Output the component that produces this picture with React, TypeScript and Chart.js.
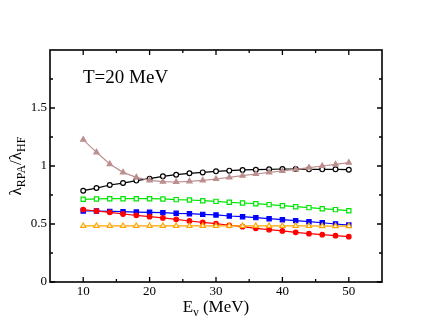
import React, { useEffect, useRef } from 'react';
import { Chart, registerables } from 'chart.js';

Chart.register(...registerables);

const energies = [10, 12, 14, 16, 18, 20, 22, 24, 26, 28, 30, 32, 34, 36, 38, 40, 42, 44, 46, 48, 50];
const blackOpenCircles = [0.787, 0.81, 0.836, 0.853, 0.874, 0.891, 0.911, 0.925, 0.937, 0.945, 0.954, 0.96, 0.966, 0.968, 0.971, 0.974, 0.974, 0.971, 0.971, 0.971, 0.968];
const brownTriangles = [1.227, 1.118, 1.017, 0.945, 0.902, 0.876, 0.865, 0.862, 0.868, 0.876, 0.888, 0.902, 0.917, 0.931, 0.945, 0.957, 0.971, 0.986, 1.0, 1.014, 1.029];
const greenOpenSquares = [0.713, 0.716, 0.718, 0.718, 0.718, 0.718, 0.716, 0.71, 0.707, 0.701, 0.695, 0.687, 0.681, 0.675, 0.667, 0.658, 0.649, 0.641, 0.632, 0.624, 0.615];
const blueSquares = [0.612, 0.612, 0.609, 0.606, 0.603, 0.601, 0.598, 0.592, 0.589, 0.583, 0.578, 0.569, 0.563, 0.555, 0.546, 0.537, 0.529, 0.52, 0.511, 0.5, 0.491];
const redCircles = [0.624, 0.612, 0.601, 0.586, 0.575, 0.563, 0.552, 0.54, 0.526, 0.514, 0.503, 0.489, 0.477, 0.463, 0.451, 0.44, 0.428, 0.417, 0.408, 0.399, 0.391];
const orangeOpenTriangles = [0.483, 0.483, 0.483, 0.483, 0.483, 0.483, 0.483, 0.483, 0.483, 0.483, 0.483, 0.483, 0.483, 0.483, 0.483, 0.483, 0.483, 0.483, 0.482, 0.482, 0.482];

const xMajorTicks = [10, 20, 30, 40, 50];
const xMinorTicks = [15, 25, 35, 45];
const yMajorTicks = [0, 0.5, 1, 1.5];
const yMinorTicks = [0.25, 0.75, 1.25, 1.75];
const annotationText = 'T=20 MeV';

const SERIF = '"Liberation Serif", "DejaVu Serif", serif';

const framePlugin = {
  id: 'framePlugin',
  afterDatasetsDraw(chart: any) {
    const { ctx, chartArea } = chart;
    const xs = chart.scales.x;
    const ys = chart.scales.y;
    const { left, right, top, bottom } = chartArea;
    ctx.save();
    ctx.strokeStyle = '#000';
    ctx.lineWidth = 1.6;
    ctx.strokeRect(left, top, right - left, bottom - top);
    ctx.lineWidth = 1.3;
    const major = 5;
    const minor = 3;
    ctx.beginPath();
    const xt = (v: number, len: number) => {
      const px = xs.getPixelForValue(v);
      ctx.moveTo(px, bottom);
      ctx.lineTo(px, bottom - len);
      ctx.moveTo(px, top);
      ctx.lineTo(px, top + len);
    };
    const yt = (v: number, len: number) => {
      const py = ys.getPixelForValue(v);
      ctx.moveTo(left, py);
      ctx.lineTo(left + len, py);
      ctx.moveTo(right, py);
      ctx.lineTo(right - len, py);
    };
    xMajorTicks.forEach((v) => xt(v, major));
    xMinorTicks.forEach((v) => xt(v, minor));
    yMajorTicks.forEach((v) => yt(v, major));
    yMinorTicks.forEach((v) => yt(v, minor));
    ctx.stroke();
    ctx.restore();
  },
  afterDraw(chart: any) {
    const { ctx, chartArea } = chart;
    const { left, right, top, bottom } = chartArea;
    ctx.save();
    ctx.fillStyle = '#000';
    ctx.textBaseline = 'alphabetic';
    ctx.textAlign = 'left';

    // annotation
    ctx.font = `19px ${SERIF}`;
    ctx.fillText(annotationText, left + 33, top + 32.5);

    // x title: E_ν (MeV)
    const mainX = `17px ${SERIF}`;
    const subX = `12px ${SERIF}`;
    ctx.font = mainX;
    const wE = ctx.measureText('E').width;
    const wRest = ctx.measureText(' (MeV)').width;
    ctx.font = subX;
    const wNu = ctx.measureText('ν').width;
    const totalX = wE + wNu + wRest;
    let cx = (left + right) / 2 - totalX / 2;
    const by = bottom + 29.5;
    ctx.font = mainX;
    ctx.fillText('E', cx, by);
    cx += wE;
    ctx.font = subX;
    ctx.fillText('ν', cx, by + 4);
    cx += wNu;
    ctx.font = mainX;
    ctx.fillText(' (MeV)', cx, by);

    // y title: λ_RPA / λ_HF
    const mainY = `17px ${SERIF}`;
    const subY = `12px ${SERIF}`;
    const parts: [string, boolean][] = [
      ['λ', false],
      ['RPA', true],
      ['/', false],
      ['λ', false],
      ['HF', true],
    ];
    const widths = parts.map(([t, s]) => {
      ctx.font = s ? subY : mainY;
      return ctx.measureText(t).width;
    });
    const totalY = widths.reduce((a, b) => a + b, 0);
    ctx.translate(20.5, (top + bottom) / 2);
    ctx.rotate(-Math.PI / 2);
    let lx = -totalY / 2;
    parts.forEach(([t, s], i) => {
      ctx.font = s ? subY : mainY;
      ctx.fillText(t, lx, s ? 4 : 0);
      lx += widths[i];
    });
    ctx.restore();
  },
};

function makeSet(label: string, data: number[], color: string, style: string, filled: boolean, radius: number) {
  return {
    label,
    data: energies.map((x, i) => ({ x, y: data[i] })),
    borderColor: color,
    backgroundColor: color,
    borderWidth: 1.2,
    pointStyle: style,
    pointRadius: radius,
    pointBorderColor: color,
    pointBackgroundColor: filled ? color : '#fff',
    pointBorderWidth: 1.2,
    tension: 0,
    fill: false,
  };
}

export default function App() {
  const ref = useRef<HTMLCanvasElement | null>(null);
  useEffect(() => {
    if (!ref.current) return;
    const chart = new Chart(ref.current, {
      type: 'line',
      data: {
        datasets: [
          makeSet('orange', orangeOpenTriangles, 'rgb(255,165,0)', 'triangle', false, 3),
          makeSet('red', redCircles, 'rgb(255,0,0)', 'circle', true, 2.3),
          makeSet('blue', blueSquares, 'rgb(0,0,255)', 'rect', true, 3),
          makeSet('green', greenOpenSquares, 'rgb(0,230,0)', 'rect', false, 3),
          makeSet('brown', brownTriangles, 'rgb(188,143,143)', 'triangle', true, 3),
          makeSet('black', blackOpenCircles, 'rgb(0,0,0)', 'circle', false, 2.4),
        ] as any,
      },
      options: {
        animation: false,
        responsive: false,
        maintainAspectRatio: false,
        layout: { padding: { top: 50, right: 48, left: 0, bottom: 0 } },
        plugins: {
          legend: { display: false },
          tooltip: { enabled: false },
          title: { display: false },
        },
        scales: {
          x: {
            type: 'linear',
            min: 5,
            max: 55,
            grid: { display: false, drawTicks: false },
            border: { display: false },
            afterFit: (s: any) => {
              s.height = 50;
            },
            afterBuildTicks: (s: any) => {
              s.ticks = xMajorTicks.map((v) => ({ value: v }));
            },
            ticks: {
              padding: 2,
              color: '#000',
              font: { family: SERIF, size: 13 },
              maxRotation: 0,
              callback: (v: any) => String(v),
            },
          },
          y: {
            type: 'linear',
            min: 0,
            max: 2,
            grid: { display: false, drawTicks: false },
            border: { display: false },
            afterFit: (s: any) => {
              s.width = 50;
            },
            afterBuildTicks: (s: any) => {
              s.ticks = yMajorTicks.map((v) => ({ value: v }));
            },
            ticks: {
              padding: 3,
              color: '#000',
              font: { family: SERIF, size: 13 },
              callback: (v: any) => String(v),
            },
          },
        },
      } as any,
      plugins: [framePlugin],
    });
    return () => chart.destroy();
  }, []);
  return (
    <div style={{ position: 'absolute', left: 0, top: 0, width: 430, height: 332, background: '#fff' }}>
      <canvas ref={ref} width={430} height={332} style={{ width: 430, height: 332, display: 'block' }} />
    </div>
  );
}
